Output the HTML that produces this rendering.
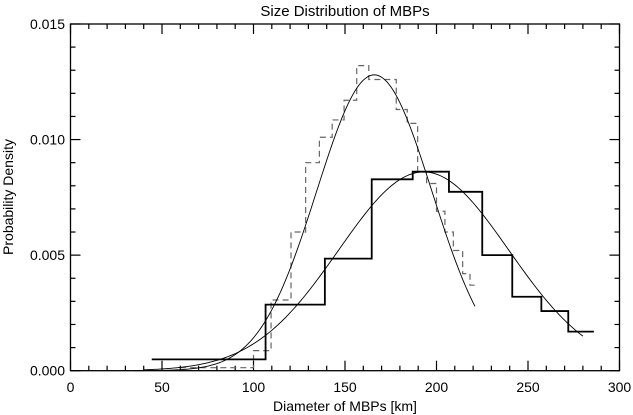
<!DOCTYPE html>
<html><head><meta charset="utf-8"><style>
body{margin:0;background:#fff}
svg{display:block}
text{font-family:"Liberation Sans",sans-serif;fill:#000}
</style></head><body>
<svg id="c" width="633" height="415"></svg>
<script>
const xTicks=[0,50,100,150,200,250,300];
const yTicks=[0.000,0.005,0.010,0.015];
const yTickLabels=["0.000","0.005","0.010","0.015"];
const solidEdges=[44.4,106.6,139,164.6,187,206.8,225,241.4,257.3,272,286];
const solidValues=[0.00049,0.00286,0.00485,0.00828,0.00861,0.00774,0.00500,0.0032,0.00258,0.00169];
const dashedEdges=[60,100,109.6,120.5,128.5,136,143,149.5,156.4,163,171,178,184,189.7,194.6,200,204.6,209.2,214.3,218.3,221];
const dashedValues=[0.00013,0.00087,0.00306,0.0060,0.0090,0.0101,0.01085,0.0117,0.0132,0.0126,0.0126,0.0113,0.0107,0.0086,0.0081,0.0069,0.0060,0.0052,0.0042,0.0037];
const fitPeak=[0.0128,0.0086];
const fitCenter=[166,193];
const fitSigma=[31.5,46.5];
const fitStart=[35,40];
const fitEnd=[221,280];

const L=70.5,R=619.5,T=24,B=370.7;
const X=v=>L+(v-0)/(300-0)*(R-L);
const Y=v=>B-(v/0.015)*(B-T);
const svg=document.getElementById('c');
const NS='http://www.w3.org/2000/svg';
function mk(t,a,p){const e=document.createElementNS(NS,t);for(const k in a)e.setAttribute(k,a[k]);(p||svg).appendChild(e);return e;}

const frame=mk('rect',{x:L,y:T,width:R-L,height:B-T,fill:'none',stroke:'#000','stroke-width':1.3});



// x ticks
for(let v=0;v<=300;v+=10){
  const major=v%50===0, len=major?10:5;
  const t1=mk('line',{x1:X(v),x2:X(v),y1:B,y2:B-len,stroke:'#000','stroke-width':1.2});
  
  
  const t2=mk('line',{x1:X(v),x2:X(v),y1:T,y2:T+len,stroke:'#000','stroke-width':1.2});
  
  
}
xTicks.forEach(v=>{
  const t=mk('text',{x:X(v),y:392,'text-anchor':'middle','font-size':14});
  t.textContent=v;
  
  
});
// y ticks
for(let i=0;i<=15;i++){
  const v=i*0.001, major=i%5===0, len=major?10:5;
  const t1=mk('line',{x1:L,x2:L+len,y1:Y(v),y2:Y(v),stroke:'#000','stroke-width':1.2});
  
  
  const t2=mk('line',{x1:R,x2:R-len,y1:Y(v),y2:Y(v),stroke:'#000','stroke-width':1.2});
  
  
}
yTicks.forEach((v,i)=>{
  const t=mk('text',{x:65,y:Y(v)+5,'text-anchor':'end','font-size':14});
  t.textContent=yTickLabels[i];
  
  
});

function stepPath(edges,vals){
  let d='M'+X(edges[0])+','+Y(vals[0]);
  for(let i=0;i<vals.length;i++){
    if(i>0)d+=' L'+X(edges[i])+','+Y(vals[i]);
    d+=' L'+X(edges[i+1])+','+Y(vals[i]);
  }
  return d;
}
const dh=mk('path',{d:stepPath(dashedEdges,dashedValues),fill:'none',stroke:'#666','stroke-width':1.2,'stroke-dasharray':'6,4'});


const sh=mk('path',{d:stepPath(solidEdges,solidValues),fill:'none',stroke:'#000','stroke-width':1.8});



for(let k=0;k<2;k++){
  let d='';
  for(let v=fitStart[k];v<=fitEnd[k];v+=1){
    const p=fitPeak[k]*Math.exp(-Math.pow(v-fitCenter[k],2)/(2*fitSigma[k]*fitSigma[k]));
    d+=(d?' L':'M')+X(v)+','+Y(p);
  }
  const c=mk('path',{d:d,fill:'none',stroke:'#000','stroke-width':0.9});
  
  
}

const title=mk('text',{x:345,y:16,'text-anchor':'middle','font-size':15});
title.textContent='Size Distribution of MBPs';


const xl=mk('text',{x:345,y:411,'text-anchor':'middle','font-size':14});
xl.textContent='Diameter of MBPs [km]';


const yl=mk('text',{x:0,y:0,'text-anchor':'middle','font-size':14,transform:'translate(13,197) rotate(-90)'});
yl.textContent='Probability Density';


</script>
</body></html>
